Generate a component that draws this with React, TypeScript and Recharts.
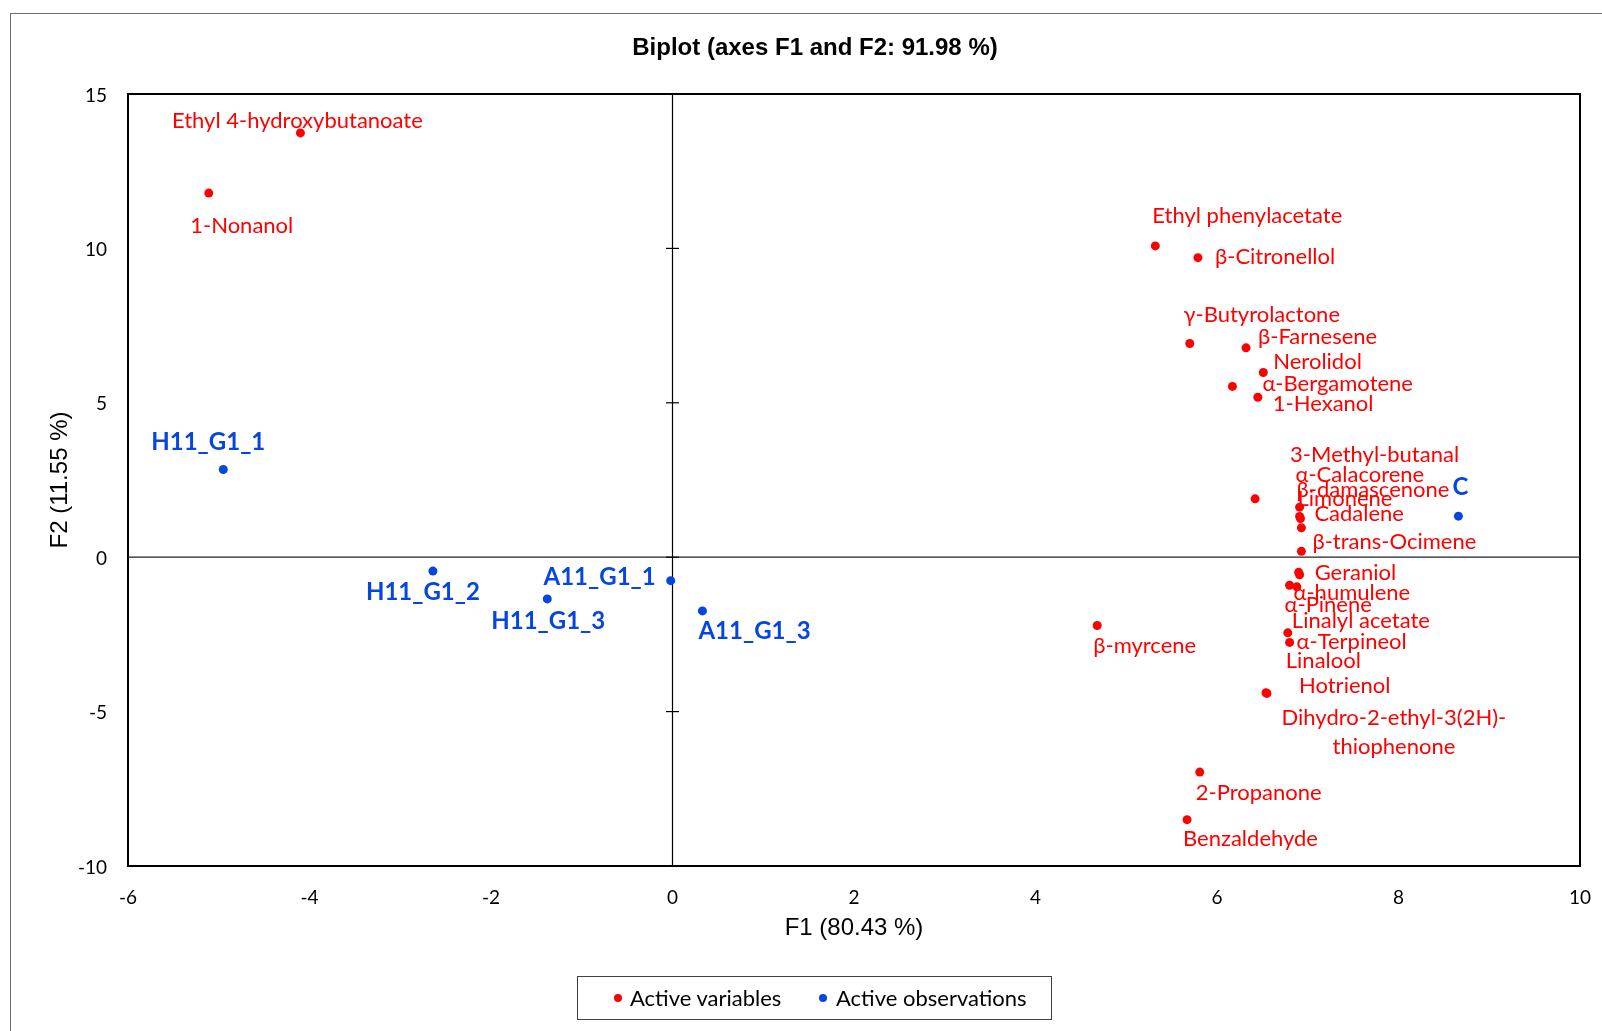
import React from 'react';
import {
  ScatterChart,
  Scatter,
  XAxis,
  YAxis,
  ReferenceLine,
  ReferenceArea,
  Legend,
} from 'recharts';

// Active variables (volatile compounds): coordinates on F1 / F2
const variableNames = [
  'Ethyl 4-hydroxybutanoate',
  '1-Nonanol',
  'Ethyl phenylacetate',
  'β-Citronellol',
  'γ-Butyrolactone',
  'β-Farnesene',
  'Nerolidol',
  'α-Bergamotene',
  '1-Hexanol',
  '3-Methyl-butanal',
  'α-Calacorene',
  'β-damascenone',
  'Limonene',
  'Cadalene',
  'β-trans-Ocimene',
  'Geraniol',
  'α-humulene',
  'α-Pinene',
  'Linalyl acetate',
  'Linalool',
  'α-Terpineol',
  'Hotrienol',
  'Dihydro-2-ethyl-3(2H)-thiophenone',
  'β-myrcene',
  '2-Propanone',
  'Benzaldehyde',
];
const variableF1 = [
  -4.1, -5.11, 5.32, 5.79, 5.7, 6.32, 6.51, 6.17, 6.45, 6.42, 6.91, 6.91, 6.92,
  6.93, 6.93, 6.9, 6.91, 6.8, 6.88, 6.78, 6.8, 6.54, 6.55, 4.68, 5.81, 5.67,
];
const variableF2 = [
  13.74, 11.79, 10.08, 9.7, 6.92, 6.78, 5.98, 5.53, 5.18, 1.89, 1.62, 1.32, 1.25,
  0.95, 0.19, -0.49, -0.57, -0.91, -0.96, -2.45, -2.76, -4.39, -4.41, -2.21, -6.96, -8.5,
];

// Active observations (samples)
const observationNames = ['H11_G1_1', 'H11_G1_2', 'H11_G1_3', 'A11_G1_1', 'A11_G1_3', 'C'];
const observationF1 = [-4.95, -2.64, -1.38, -0.02, 0.33, 8.66];
const observationF2 = [2.84, -0.45, -1.35, -0.76, -1.74, 1.33];

const f1Ticks = [-6, -4, -2, 0, 2, 4, 6, 8, 10];
const f2Ticks = [-10, -5, 0, 5, 10, 15];
const f2CrossTicks = [-5, 0, 5, 10];

const RED = '#ff0000';
const BLUE = '#0645e0';
const LABEL_FONT = 'Lato, "Open Sans", sans-serif';
const ARIAL = '"Liberation Sans", Arial, sans-serif';
const CROSS_HALF = 0.072; // half length of the small cross ticks on the F2 axis, in F1 units

type Anchor = 'start' | 'middle' | 'end';

// where each point's label sits relative to its dot (px offsets, text anchor)
const labelPlacement: Record<string, [number, number, Anchor]> = {
  'Ethyl 4-hydroxybutanoate': [-3, -13, 'middle'],
  '1-Nonanol': [33, 31, 'middle'],
  'Ethyl phenylacetate': [92, -31, 'middle'],
  'β-Citronellol': [17, -2, 'start'],
  'γ-Butyrolactone': [72, -30, 'middle'],
  'β-Farnesene': [12, -12, 'start'],
  'Nerolidol': [10, -12, 'start'],
  'α-Bergamotene': [30, -4, 'start'],
  '1-Hexanol': [15, 5, 'start'],
  '3-Methyl-butanal': [35, -45, 'start'],
  'α-Calacorene': [-4, -34, 'start'],
  'β-damascenone': [-3, -28, 'start'],
  'Limonene': [-3, -21, 'start'],
  'Cadalene': [13, -15, 'start'],
  'β-trans-Ocimene': [11, -11, 'start'],
  'Geraniol': [16, -1, 'start'],
  'α-humulene': [-6, 17, 'start'],
  'α-Pinene': [-5, 18, 'start'],
  'Linalyl acetate': [-5, 33, 'start'],
  'Linalool': [-2, 27, 'start'],
  'α-Terpineol': [7, -2, 'start'],
  'Hotrienol': [33, -8, 'start'],
  'Dihydro-2-ethyl-3(2H)-thiophenone': [127, 23, 'middle'],
  'β-myrcene': [-4, 19, 'start'],
  '2-Propanone': [-4, 19, 'start'],
  'Benzaldehyde': [-4, 18, 'start'],
  'H11_G1_1': [-15, -29, 'middle'],
  'H11_G1_2': [-10, 19, 'middle'],
  'H11_G1_3': [1, 21, 'middle'],
  'A11_G1_1': [-15, -5, 'end'],
  'A11_G1_3': [-4, 19, 'start'],
  'C': [2, -31, 'middle'],
};

const labelLines: Record<string, string[]> = {
  'Dihydro-2-ethyl-3(2H)-thiophenone': ['Dihydro-2-ethyl-3(2H)-', 'thiophenone'],
};

const variables = variableNames.map((name, i) => ({ name, x: variableF1[i], y: variableF2[i] }));
const observations = observationNames.map((name, i) => ({
  name,
  x: observationF1[i],
  y: observationF2[i],
}));

// dot + its text label
const makePoint = (color: string, bold: boolean) => (props: any) => {
  const { cx, cy, payload } = props;
  if (cx == null || cy == null) return <g />;
  const [dx, dy, anchor] = labelPlacement[payload.name] ?? [8, 0, 'start'];
  const lines = labelLines[payload.name] ?? [payload.name];
  return (
    <g>
      <circle cx={cx} cy={cy} r={4.5} fill={color} />
      {lines.map((line, i) => (
        <text
          key={i}
          x={cx + dx}
          y={cy + dy + i * 29}
          textAnchor={anchor}
          dominantBaseline="central"
          fill={color}
          fontFamily={LABEL_FONT}
          fontSize={bold ? 24 : 22}
          fontWeight={bold ? 700 : 400}
        >
          {line}
        </text>
      ))}
    </g>
  );
};

const XTick = (props: any) => (
  <text
    x={props.x}
    y={props.y + 30}
    textAnchor="middle"
    dominantBaseline="central"
    fill="#000"
    fontFamily={LABEL_FONT}
    fontSize={19}
  >
    {props.payload.value}
  </text>
);

const YTick = (props: any) => (
  <text
    x={props.x - 21}
    y={props.y}
    textAnchor="end"
    dominantBaseline="central"
    fill="#000"
    fontFamily={LABEL_FONT}
    fontSize={19}
  >
    {props.payload.value}
  </text>
);

const LegendBox = () => {
  const dot = (left: number, color: string): React.CSSProperties => ({
    position: 'absolute',
    left,
    top: 17,
    width: 8,
    height: 8,
    borderRadius: '50%',
    background: color,
  });
  const label = (left: number): React.CSSProperties => ({
    position: 'absolute',
    left,
    top: 0,
    lineHeight: '41px',
    whiteSpace: 'nowrap',
  });
  return (
    <div
      style={{
        position: 'relative',
        width: 475,
        height: 44,
        boxSizing: 'border-box',
        border: '1.5px solid #404040',
        background: '#fff',
        fontFamily: LABEL_FONT,
        fontSize: 22,
        color: '#000',
      }}
    >
      <span style={dot(36, RED)} />
      <span style={label(52)}>Active variables</span>
      <span style={dot(241, BLUE)} />
      <span style={label(258)}>Active observations</span>
    </div>
  );
};

export default function App() {
  return (
    <div style={{ position: 'relative', width: 1586, height: 1015, overflow: 'hidden', background: '#fff' }}>
      {/* outer frame: only its top and left edges fall inside the page */}
      <div
        style={{
          position: 'fixed',
          left: 10,
          top: 13,
          width: 1592,
          height: 1018,
          borderTop: '1px solid #6e6e6e',
          borderLeft: '1px solid #6e6e6e',
          pointerEvents: 'none',
        }}
      />
      <div
        style={{
          position: 'absolute',
          left: 407,
          top: 27,
          width: 800,
          textAlign: 'center',
          fontFamily: ARIAL,
          fontWeight: 700,
          fontSize: 24,
          lineHeight: '24px',
          color: '#000',
        }}
      >
        Biplot (axes F1 and F2: 91.98 %)
      </div>
      <ScatterChart
        width={1586}
        height={1015}
        margin={{ top: 86, right: 14, bottom: 117, left: 60 }}
        style={{ position: 'absolute', left: 0, top: 0 }}
      >
        <XAxis
          type="number"
          dataKey="x"
          domain={[-6, 10]}
          ticks={f1Ticks}
          allowDataOverflow
          axisLine={false}
          tickLine={false}
          tickSize={0}
          tickMargin={0}
          height={40}
          tick={<XTick />}
          label={{
            value: 'F1 (80.43 %)',
            position: 'bottom',
            offset: 12,
            style: { fontFamily: ARIAL, fontSize: 24, fill: '#000' },
          }}
        />
        <YAxis
          type="number"
          dataKey="y"
          domain={[-10, 15]}
          ticks={f2Ticks}
          allowDataOverflow
          axisLine={false}
          tickLine={false}
          tickSize={0}
          tickMargin={0}
          width={60}
          tick={<YTick />}
          label={{
            value: 'F2 (11.55 %)',
            angle: -90,
            position: 'insideLeft',
            offset: -10,
            style: { fontFamily: ARIAL, fontSize: 24, fill: '#000', textAnchor: 'middle' },
          }}
        />
        <ReferenceLine x={0} stroke="#000" strokeWidth={1.2} />
        <ReferenceLine y={0} stroke="#222" strokeWidth={1.2} />
        {f2CrossTicks.map((t) => (
          <ReferenceLine
            key={t}
            segment={[
              { x: -CROSS_HALF, y: t },
              { x: CROSS_HALF, y: t },
            ]}
            stroke="#000"
            strokeWidth={1.2}
          />
        ))}
        <ReferenceArea
          x1={-6}
          x2={10}
          y1={-10}
          y2={15}
          fill="none"
          fillOpacity={0}
          stroke="#000"
          strokeWidth={2}
        />
        <Legend
          layout="horizontal"
          verticalAlign="middle"
          align="center"
          wrapperStyle={{ left: 569, top: 968, width: 475, height: 44 }}
          content={() => <LegendBox />}
        />
        <Scatter
          name="Active variables"
          data={variables}
          fill={RED}
          shape={makePoint(RED, false)}
          isAnimationActive={false}
        />
        <Scatter
          name="Active observations"
          data={observations}
          fill={BLUE}
          shape={makePoint(BLUE, true)}
          isAnimationActive={false}
        />
      </ScatterChart>
    </div>
  );
}
